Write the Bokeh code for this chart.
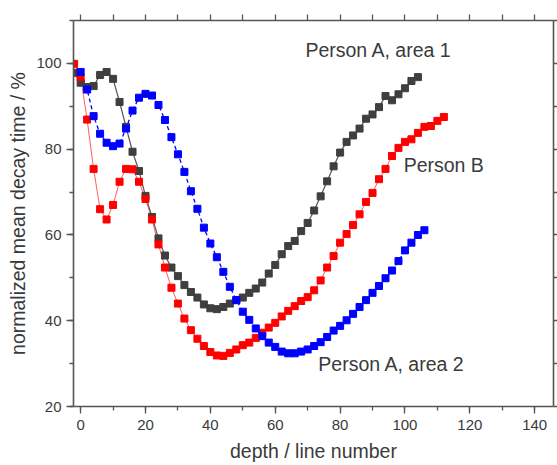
from bokeh.plotting import figure
from bokeh.models import LinearAxis, SingleIntervalTicker, FixedTicker, Range1d, Label, ColumnDataSource
from bokeh.embed import file_html
from bokeh.resources import INLINE

# depth / line number
x_a1 = list(range(-2, 105, 2))
y_a1 = [97.8, 95.5, 94.5, 94.7, 97.3, 98.0, 96.4, 91.0, 85.2, 79.4, 74.9, 69.1,
        64.2, 59.2, 55.2, 52.4, 50.4, 48.3, 46.7, 45.4, 43.8, 42.9, 42.7, 43.2,
        44.0, 44.8, 45.4, 46.5, 47.5, 48.9, 51.0, 53.0, 55.5, 57.4, 58.6, 60.9,
        62.8, 65.7, 69.0, 72.5, 76.0, 79.2, 81.7, 83.2, 84.8, 87.1, 88.1, 89.8,
        92.4, 91.4, 92.8, 94.2, 95.9, 96.8]

x_b = list(range(-2, 113, 2))
y_b = [99.9, 96.8, 86.9, 75.4, 66.0, 63.6, 67.0, 72.4, 75.4, 75.3, 72.4, 68.4,
       63.6, 57.8, 52.4, 47.7, 44.0, 40.5, 37.8, 35.8, 34.1, 32.7, 31.9, 31.8,
       32.5, 33.3, 34.3, 34.9, 36.0, 37.2, 38.4, 39.5, 41.0, 42.3, 43.4, 44.6,
       45.5, 47.1, 49.4, 52.4, 55.1, 58.2, 60.2, 62.3, 64.8, 67.7, 69.8, 73.0,
       75.4, 78.4, 80.3, 81.7, 82.3, 83.8, 85.2, 85.4, 86.6, 87.5]

x_a2 = list(range(0, 107, 2))
y_a2 = [98.0, 93.9, 87.7, 83.6, 81.5, 80.7, 81.3, 84.8, 89.0, 92.0, 92.9, 92.5,
        90.3, 86.8, 82.8, 78.8, 74.7, 70.2, 66.1, 61.7, 58.0, 54.8, 51.4, 47.9,
        44.8, 42.1, 40.2, 38.2, 36.4, 34.9, 33.9, 32.8, 32.4, 32.4, 32.8, 33.3,
        34.1, 35.0, 36.2, 37.7, 38.8, 40.1, 41.6, 43.2, 44.8, 46.5, 48.1, 49.9,
        51.7, 53.9, 56.4, 58.2, 60.0, 61.1]

labels = ["Person A, area 1", "Person B", "Person A, area 2"]
label_x = [69.3, 99.6, 73.3]
label_y = [103.1, 76.2, 30.0]

x_box_ticks = list(range(0, 150, 10))
y_box_ticks = list(range(20, 111, 10))

FONT = "Liberation Sans"
AX = "#555555"
TXT = "#3a3a3a"

p = figure(width=557, height=465, output_backend="svg", toolbar_location=None,
           x_range=Range1d(-2.2, 145.8), y_range=Range1d(20, 110),
           x_axis_location=None, y_axis_location=None,
           min_border_left=73, min_border_right=4, min_border_top=20,
           min_border_bottom=59)
p.grid.visible = False
p.outline_line_color = None
p.background_fill_color = "white"

def style(ax):
    ax.axis_line_color = AX
    ax.axis_line_width = 1.6
    ax.major_tick_line_color = AX
    ax.minor_tick_line_color = AX
    ax.major_tick_line_width = 1.3
    ax.minor_tick_line_width = 1.3
    ax.major_tick_in = 0
    ax.major_tick_out = 7
    ax.minor_tick_in = 0
    ax.minor_tick_out = 4
    ax.major_label_text_font = FONT
    ax.major_label_text_font_size = "15px"
    ax.major_label_text_color = TXT
    ax.axis_label_text_font = FONT
    ax.axis_label_text_font_size = "19.5px"
    ax.axis_label_text_font_style = "normal"
    ax.axis_label_text_color = TXT

xb = LinearAxis(ticker=SingleIntervalTicker(interval=20, num_minor_ticks=2),
                axis_label="depth / line number")
style(xb)
xb.major_label_standoff = 6
xb.axis_label_standoff = 7
p.add_layout(xb, "below")

yl = LinearAxis(ticker=SingleIntervalTicker(interval=20, num_minor_ticks=2),
                axis_label="normalized mean decay time / %")
style(yl)
yl.major_label_standoff = 5
yl.axis_label_standoff = 4
p.add_layout(yl, "left")

xt = LinearAxis(ticker=FixedTicker(ticks=[], minor_ticks=x_box_ticks))
style(xt)
xt.minor_tick_out = 6
xt.major_label_standoff = 0
p.add_layout(xt, "above")

yr = LinearAxis(ticker=FixedTicker(ticks=[], minor_ticks=y_box_ticks))
style(yr)
yr.minor_tick_out = 4
yr.major_label_standoff = 0
p.add_layout(yr, "right")

src_a1 = ColumnDataSource(dict(x=x_a1, y=y_a1))
src_b = ColumnDataSource(dict(x=x_b, y=y_b))
src_a2 = ColumnDataSource(dict(x=x_a2, y=y_a2))

p.line("x", "y", source=src_a1, line_color="#555555", line_width=1.2)
p.line("x", "y", source=src_b, line_color="#ff3333", line_width=1.0, line_alpha=0.8)
p.line("x", "y", source=src_a2, line_color="#0000ff", line_width=1.3, line_dash="4 3")

p.scatter("x", "y", source=src_a1, marker="square", size=7, fill_color="#3f3f3f", line_color="#3f3f3f")
p.scatter("x", "y", source=src_b, marker="square", size=7, fill_color="#ff0000", line_color="#ff0000")
p.scatter("x", "y", source=src_a2, marker="square", size=7, fill_color="#0000ff", line_color="#0000ff")

for t, lx, ly in zip(labels, label_x, label_y):
    p.add_layout(Label(x=lx, y=ly, text=t, text_font=FONT, text_font_size="19.5px",
                       text_color=TXT, text_baseline="middle", text_align="left"))

open("out.html", "w").write(file_html(p, INLINE))
